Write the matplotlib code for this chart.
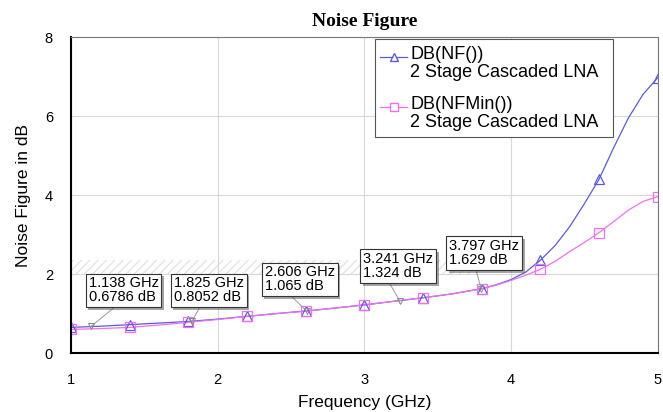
import numpy as np
import matplotlib.pyplot as plt
import matplotlib.patheffects as pe
from matplotlib.patches import Rectangle
from matplotlib.lines import Line2D

# Donnees
freq = [1.0, 1.2, 1.4, 1.6, 1.8, 2.0, 2.2, 2.4, 2.6, 2.8, 3.0, 3.2, 3.4, 3.6, 3.8,
        3.9, 4.0, 4.1, 4.2, 4.3, 4.4, 4.5, 4.6, 4.7, 4.8, 4.9, 5.0]
nf = [0.65, 0.68, 0.72, 0.76, 0.80, 0.86, 0.93, 1.00, 1.065, 1.14, 1.22, 1.31,
      1.40, 1.50, 1.63, 1.73, 1.86, 2.05, 2.35, 2.72, 3.20, 3.78, 4.40, 5.20,
      5.95, 6.55, 6.97]
nfmin = [0.60, 0.62, 0.65, 0.71, 0.78, 0.85, 0.93, 1.00, 1.06, 1.14, 1.22, 1.31,
         1.40, 1.50, 1.63, 1.72, 1.84, 1.97, 2.12, 2.32, 2.57, 2.80, 3.05, 3.33,
         3.62, 3.84, 3.96]
marker_freq = [1.0, 1.4, 1.8, 2.2, 2.6, 3.0, 3.4, 3.8, 4.2, 4.6, 5.0]

mk_freq = [1.138, 1.825, 2.606, 3.241, 3.797]
mk_label = ['0.6786', '0.8052', '1.065', '1.324', '1.629']
mk_val = [0.6786, 0.8052, 1.065, 1.324, 1.629]
mk_box = [(1.1, 1.17), (1.68, 1.17), (2.3, 1.45), (2.97, 1.78), (3.56, 2.12)]

c_nf = '#5a5ae0'
c_min = '#f070f0'

plt.rc('font', family=['Liberation Sans', 'DejaVu Sans'])

fig = plt.figure(figsize=(6.63, 4.12), dpi=100)
ax = fig.add_axes([0.107, 0.143, 0.885, 0.767])

idx = [freq.index(f) for f in marker_freq]
ax.plot(freq, nf, color=c_nf, lw=0.9)
ax.plot(freq, nfmin, color=c_min, lw=0.9)
ax.plot([freq[i] for i in idx], [nf[i] for i in idx], ls='none', marker='^',
        mfc='none', mec=c_nf, ms=7, mew=0.9)
ax.plot([freq[i] for i in idx], [nfmin[i] for i in idx], ls='none', marker='s',
        mfc='none', mec=c_min, ms=7, mew=0.9)

# zone hachuree
ax.add_patch(Rectangle((1.0, 2.0), 2.8, 0.35, fill=False, hatch='////',
                       edgecolor='#e4e4e4', lw=0))

# marqueurs de mesure
for f, v, lab, (bx, by) in zip(mk_freq, mk_val, mk_label, mk_box):
    ax.plot([f, bx + 0.2], [v, by], color='#999999', lw=0.7)
    ax.plot(f, v, marker='v', mfc='none', mec='#888888', ms=5, mew=0.7)
    t = ax.text(bx + 0.02, by + 0.06, '%.3f GHz\n%s dB' % (f, lab),
                fontsize=10.5, va='bottom', ha='left', linespacing=1.0, zorder=5,
                bbox=dict(boxstyle='square,pad=0.2', fc='white', ec='#333333', lw=0.8))
    t.get_bbox_patch().set_path_effects([pe.SimplePatchShadow(offset=(2, -2), alpha=0.5),
                                         pe.Normal()])

# legende dessinee a la main
ax.add_patch(Rectangle((0.518, 0.683), 0.405, 0.311, transform=ax.transAxes,
                       fc='white', ec='#555555', lw=0.8, zorder=6))
for k, (col, mk, name) in enumerate([(c_nf, '^', 'DB(NF())'), (c_min, 's', 'DB(NFMin())')]):
    y0 = 0.938 - k * 0.158
    ax.add_line(Line2D([0.527, 0.573], [y0, y0], transform=ax.transAxes, color=col,
                       lw=0.9, zorder=7))
    ax.add_line(Line2D([0.55], [y0], transform=ax.transAxes, color=col,
                       marker=mk, mfc='white', ms=6, ls='none', zorder=7))
    ax.text(0.578, y0 + 0.035, name + '\n2 Stage Cascaded LNA', transform=ax.transAxes,
            fontsize=13, va='top', ha='left', linespacing=1.12, zorder=7)

ax.set_xlim(1, 5)
ax.set_ylim(0, 8)
ax.set_xticks([1, 2, 3, 4, 5])
ax.set_yticks([0, 2, 4, 6, 8])
ax.grid(color='#d8d8d8', lw=0.8)
ax.tick_params(axis='y', length=0, labelsize=10.5, pad=13)
ax.tick_params(axis='x', length=0, labelsize=10.5, pad=14)
for s in ['left', 'bottom']:
    ax.spines[s].set_linewidth(1.5)
for s in ['top', 'right']:
    ax.spines[s].set_color('#777777')
ax.set_xlabel('Frequency (GHz)', fontsize=12.5, labelpad=6)
ax.set_ylabel('Noise Figure in dB', fontsize=12.5, labelpad=10)
ax.set_title('Noise Figure', fontsize=14, fontweight='bold', family='Liberation Serif', pad=8)

plt.savefig('out.png', dpi=100)
